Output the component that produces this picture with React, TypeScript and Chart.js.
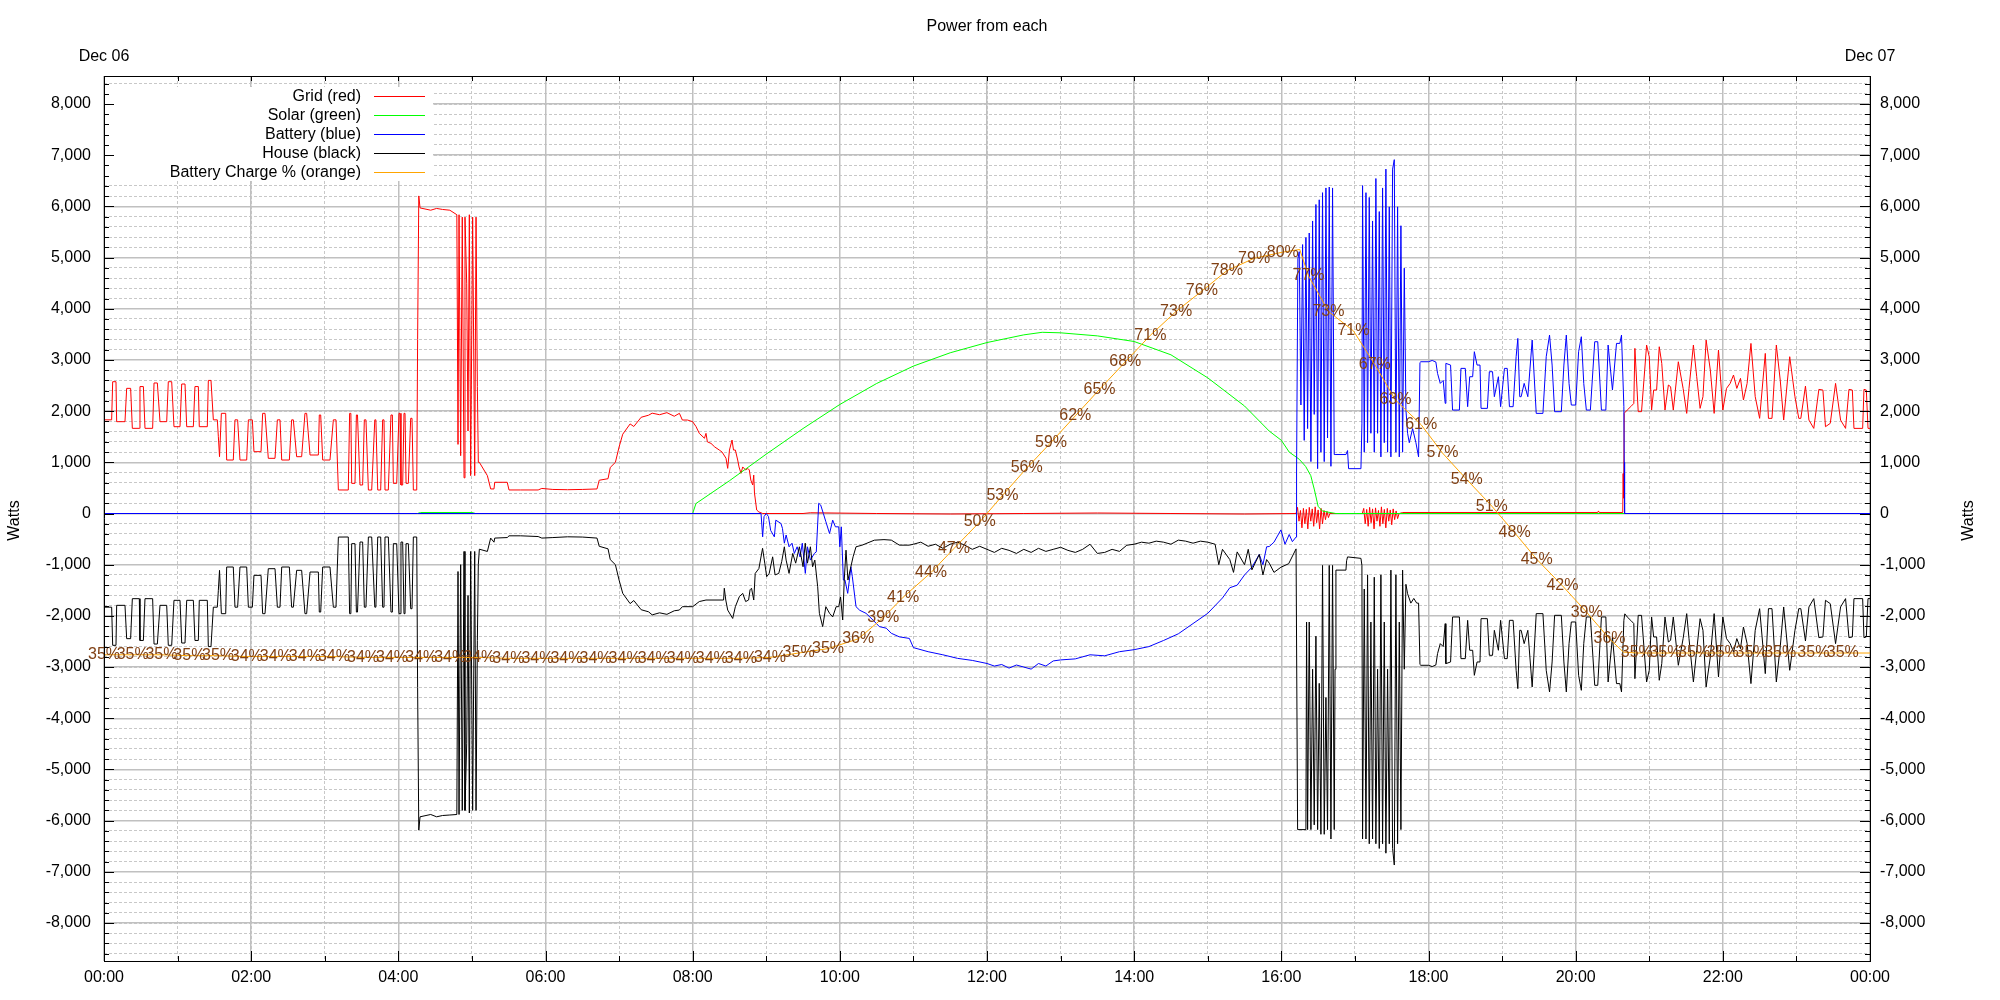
import React, { useEffect, useRef } from 'react';
import { Chart, registerables } from 'chart.js';

Chart.register(...registerables);

const FONT = '"Liberation Sans", Arial, Helvetica, sans-serif';
const TITLE = 'Power from each';
const AXIS_TITLE = 'Watts';
const DATE_LABELS = ['Dec 06', 'Dec 07'];
const Y_MIN = -8742;
const Y_MAX = 8547;
const X_MIN = 0;
const X_MAX = 24;
const Y_MAJOR_TICKS = [-8000, -7000, -6000, -5000, -4000, -3000, -2000, -1000, 0, 1000, 2000, 3000, 4000, 5000, 6000, 7000, 8000];
const Y_MINOR_STEP = 200;
const X_MAJOR_TICKS = [0, 2, 4, 6, 8, 10, 12, 14, 16, 18, 20, 22, 24];

// [hour of day, watts]
const gridPts: [number, number][] = [
  [0, 1830], [0.104, 1830], [0.118, 2575], [0.163, 2575], [0.172, 1794], [0.285, 1794], [0.308, 2445], [0.362, 2445], [0.385, 1664], [0.48, 1664], [0.489, 2480], [0.535, 2480], [0.557, 1664], [0.661, 1664], [0.68, 2550], [0.725, 2550], [0.761, 1794], [0.852, 1794], [0.874, 2575], [0.92, 2575], [0.951, 1696], [1.033, 1696], [1.056, 2530], [1.101, 2530], [1.124, 1696], [1.214, 1696], [1.236, 2480], [1.282, 2480], [1.295, 1696], [1.404, 1696], [1.418, 2600], [1.454, 2600], [1.486, 1830], [1.54, 1830],
  [1.554, 1500], [1.57, 1110], [1.595, 1957], [1.654, 1957], [1.667, 1045], [1.757, 1045], [1.78, 1830], [1.816, 1830], [1.848, 1045], [1.939, 1045], [1.962, 1830], [2.016, 1830], [2.038, 1208], [2.134, 1208], [2.156, 1957], [2.188, 1957], [2.233, 1078], [2.324, 1078], [2.356, 1830], [2.392, 1830], [2.415, 1045], [2.519, 1045], [2.55, 1830], [2.573, 1830], [2.618, 1110], [2.686, 1110], [2.731, 1957], [2.754, 1957], [2.8, 1143], [2.913, 1143], [2.926, 1925], [2.945, 1925], [2.972, 1045], [3.071, 1045], [3.117, 1830], [3.153, 1830], [3.171, 1045], [3.185, 460],
  [3.32, 459], [3.338, 1957], [3.355, 1957], [3.366, 589], [3.411, 589], [3.43, 1925], [3.445, 1925], [3.479, 557], [3.515, 557], [3.538, 1830], [3.56, 1830], [3.593, 459], [3.638, 459], [3.68, 1830], [3.695, 1830], [3.72, 459], [3.76, 459], [3.787, 1830], [3.805, 1830], [3.819, 459], [3.864, 459], [3.9, 1925], [3.919, 1925], [3.932, 589], [3.978, 589], [4.009, 1957], [4.023, 1957], [4.036, 557], [4.059, 557], [4.077, 1957], [4.091, 1957], [4.105, 589], [4.136, 589], [4.168, 1860], [4.186, 1860], [4.204, 459], [4.25, 459],
  [4.262, 3400], [4.278, 6204], [4.295, 5970], [4.44, 5925], [4.52, 5960], [4.6, 5940], [4.7, 5925], [4.795, 5837], [4.811, 1350], [4.825, 5837], [4.847, 1130], [4.869, 5790], [4.893, 697], [4.906, 5790], [4.929, 4500], [4.947, 1612], [4.965, 5837], [4.983, 740], [5.01, 5790], [5.038, 740], [5.056, 5790], [5.074, 2483], [5.087, 1000], [5.101, 1000], [5.21, 740], [5.255, 480], [5.3, 480], [5.31, 610], [5.48, 610], [5.504, 460],
  [5.663, 460], [5.9, 460], [5.95, 490], [6.1, 470], [6.3, 465], [6.5, 470], [6.7, 480], [6.73, 650], [6.85, 680], [6.88, 900], [6.95, 1000], [7.0, 1300], [7.05, 1550], [7.15, 1750], [7.2, 1700], [7.3, 1880], [7.4, 1920], [7.45, 1960], [7.55, 1930], [7.65, 1970], [7.75, 1900], [7.82, 1957], [7.86, 1826], [7.93, 1826], [8.0, 1794], [8.045, 1700], [8.09, 1566], [8.16, 1470], [8.181, 1566], [8.2, 1400], [8.249, 1370], [8.3, 1300], [8.362, 1240], [8.4, 1200], [8.453, 1080], [8.476, 882], [8.5, 1240], [8.535, 1436], [8.555, 1240], [8.58, 1240], [8.612, 1045], [8.63, 910], [8.657, 785], [8.68, 910], [8.72, 850], [8.75, 880], [8.77, 850], [8.79, 654], [8.816, 557], [8.83, 750], [8.84, 400], [8.87, 68], [8.9, 30], [8.952, 0],
  [9.5, 0], [9.6, 15], [10.5, 0], [11.5, -10], [12.5, 0], [13.5, 10], [14.5, 0], [15.5, -10], [16.2, 0],
  [16.22, 120], [16.24, -150], [16.26, 60], [16.28, -280], [16.3, 100], [16.32, -200], [16.34, 80], [16.36, -300], [16.38, 120], [16.4, -150], [16.42, 90], [16.44, -250], [16.46, 130], [16.48, -180], [16.5, 70], [16.52, -300], [16.54, 100], [16.56, -200], [16.58, 60], [16.6, -120], [16.62, 40], [16.64, -80], [16.66, 0],
  [17.1, 0], [17.12, 100], [17.14, -200], [17.16, 80], [17.18, -250], [17.2, 120], [17.22, -180], [17.24, 90], [17.26, -300], [17.28, 110], [17.3, -150], [17.32, 60], [17.34, -250], [17.36, 130], [17.38, -200], [17.4, 80], [17.42, -280], [17.44, 100], [17.46, -150], [17.48, 70], [17.5, -220], [17.52, 90], [17.54, -120], [17.56, 50], [17.58, -100], [17.6, 0],
  [17.65, 20], [20.3, 20], [20.31, 50], [20.32, 20], [20.64, 20], [20.645, 780], [20.652, 300], [20.66, 1960],
  [20.668, 1960], [20.7, 2020], [20.75, 2090], [20.79, 2150], [20.805, 3226], [20.85, 1990], [20.895, 1990], [20.964, 3291], [21.0, 3063], [21.032, 2021], [21.06, 2412], [21.1, 2412], [21.136, 3258], [21.17, 2933], [21.214, 2021], [21.26, 2510], [21.29, 2477], [21.327, 2021], [21.395, 2965], [21.46, 2444], [21.509, 1956], [21.54, 2444], [21.6, 3291], [21.645, 2672], [21.691, 2054], [21.73, 2282], [21.773, 3388], [21.83, 2802], [21.882, 1956], [21.941, 3193], [22.0, 2021], [22.05, 2444], [22.1, 2542], [22.145, 2705], [22.19, 2444], [22.24, 2640], [22.28, 2217], [22.33, 2542], [22.382, 3323], [22.44, 2282], [22.5, 1859], [22.577, 3128], [22.62, 1859], [22.668, 1859], [22.727, 3291], [22.78, 2607], [22.827, 1826], [22.909, 3063], [22.98, 2282], [23.032, 1859], [23.06, 1859], [23.123, 2490], [23.17, 1826], [23.236, 1663], [23.305, 2425], [23.36, 2412], [23.395, 1696], [23.46, 1761], [23.532, 2542], [23.6, 1826], [23.668, 1663], [23.714, 2425], [23.76, 2412], [23.782, 1663], [23.9, 1663], [23.918, 2425], [23.95, 2412], [23.973, 1663], [24, 1663],
];

const solarPts: [number, number][] = [
  [0, 0], [4.26, 0], [4.3, 20], [5.0, 20], [5.05, 0], [8.0, 0], [8.045, 195], [8.5, 640], [9.0, 1160], [9.5, 1660], [10.0, 2130], [10.5, 2540], [11.0, 2880], [11.5, 3140], [12.0, 3340], [12.5, 3490], [12.75, 3540], [13.0, 3530], [13.5, 3470], [14.0, 3360], [14.5, 3100], [15.0, 2650], [15.5, 2100], [15.836, 1610], [16.0, 1430], [16.107, 1200], [16.243, 1060], [16.33, 920], [16.4, 740], [16.45, 460], [16.5, 140], [16.56, 46], [16.74, 0], [24, 0],
];

const batteryPts: [number, number][] = [
  [0, 0], [4.26, 0], [8.929, 0], [8.951, -456], [8.97, -60], [9.0, 0], [9.03, -60], [9.06, -330], [9.11, -456], [9.13, -130], [9.2, -195], [9.22, -290], [9.246, -580], [9.27, -420], [9.31, -650], [9.35, -580], [9.382, -780], [9.42, -650], [9.46, -850], [9.49, -580], [9.531, -1170], [9.56, -650], [9.6, -910], [9.654, -780], [9.68, -750], [9.713, 200], [9.74, 165], [9.776, 0], [9.81, -160], [9.86, -390], [9.903, -130], [9.94, -260], [9.985, -260], [10.0, -650], [10.02, -260], [10.048, -1300], [10.07, -1300], [10.107, -1560], [10.13, -1300], [10.15, -1040], [10.17, -1235], [10.22, -1820], [10.27, -1890], [10.356, -1950], [10.45, -2080], [10.537, -2210], [10.63, -2240], [10.7, -2340], [10.809, -2410], [10.945, -2440],
  [11.0, -2620], [11.2, -2700], [11.4, -2760], [11.6, -2830], [11.8, -2870], [12.0, -2930], [12.1, -2980], [12.2, -2950], [12.3, -3020], [12.4, -2960], [12.5, -3000], [12.6, -3040], [12.7, -2930], [12.8, -2980], [12.9, -2880], [13.0, -2860], [13.2, -2840], [13.4, -2760], [13.6, -2780], [13.8, -2700], [14.0, -2660], [14.2, -2600], [14.4, -2480], [14.6, -2350], [14.8, -2150], [15.0, -1950], [15.2, -1650], [15.3, -1450], [15.4, -1400], [15.5, -1200], [15.6, -1050], [15.7, -800], [15.75, -1000], [15.8, -650], [15.836, -645], [15.9, -560], [15.994, -320], [16.05, -600], [16.107, -410], [16.15, -550], [16.2, -460],
  [16.207, 830], [16.225, 4980], [16.243, 5115], [16.266, 2120], [16.289, 5254], [16.311, 1429], [16.334, 5392], [16.357, 1659], [16.379, 5480], [16.402, 1014], [16.425, 5715], [16.447, 1936], [16.47, 6037], [16.493, 876], [16.515, 6129], [16.538, 1198], [16.56, 6268], [16.583, 1014], [16.606, 6360], [16.628, 1475], [16.651, 6378], [16.674, 922], [16.696, 6360], [16.719, 1152], [16.742, 1152], [16.878, 1152], [16.9, 1230], [16.914, 876], [17.082, 876], [17.095, 1751],
  [17.104, 6406], [17.127, 1198], [17.15, 6268], [17.172, 1383], [17.195, 6175], [17.217, 1567], [17.24, 5715], [17.263, 1198], [17.285, 6544], [17.308, 1567], [17.331, 5899], [17.353, 1106], [17.376, 6360], [17.399, 1383], [17.421, 6728], [17.444, 1198], [17.467, 5991], [17.489, 1106], [17.512, 6728], [17.535, 6913], [17.557, 1198], [17.58, 5991], [17.603, 1106], [17.625, 5622], [17.648, 1198], [17.671, 4793], [17.693, 2028], [17.716, 1567], [17.739, 1383], [17.784, 1659], [17.829, 1383], [17.865, 1106], [17.884, 2950],
  [17.895, 2965], [18.0, 2965], [18.05, 2990], [18.1, 2960], [18.123, 2737], [18.16, 2542], [18.2, 2600], [18.227, 2152], [18.236, 2933], [18.3, 2900], [18.327, 2021], [18.42, 2021], [18.441, 2835], [18.5, 2835], [18.532, 2087], [18.56, 2672], [18.6, 2672], [18.623, 3161], [18.66, 2900], [18.7, 2900], [18.714, 2054], [18.8, 2054], [18.827, 2770], [18.87, 2770], [18.895, 2282], [18.95, 2672], [18.98, 2087], [19.032, 2835], [19.07, 2835], [19.1, 2087], [19.15, 2087], [19.191, 3063], [19.214, 3421], [19.24, 2282], [19.259, 2282], [19.3, 2542], [19.35, 2282], [19.409, 3388], [19.464, 1956], [19.555, 1956], [19.6, 3063], [19.645, 3486], [19.68, 2900], [19.714, 1989], [19.805, 1989], [19.84, 2900], [19.873, 3486], [19.91, 2542], [19.941, 2119], [20.0, 2119], [20.04, 3161], [20.077, 3454], [20.11, 2542], [20.145, 2021], [20.2, 2021], [20.259, 3356], [20.3, 3356], [20.35, 2021], [20.41, 2021], [20.441, 3291], [20.5, 2412], [20.555, 3323], [20.6, 3323], [20.623, 3486], [20.655, 2087], [20.66, 1000], [20.665, 0], [24, 0],
];

const housePts: [number, number][] = [
  [0, -1830], [0.104, -1830], [0.118, -2575], [0.163, -2575], [0.172, -1794], [0.285, -1794], [0.308, -2445], [0.362, -2445], [0.385, -1664], [0.48, -1664], [0.489, -2480], [0.535, -2480], [0.557, -1664], [0.661, -1664], [0.68, -2550], [0.725, -2550], [0.761, -1794], [0.852, -1794], [0.874, -2575], [0.92, -2575], [0.951, -1696], [1.033, -1696], [1.056, -2530], [1.101, -2530], [1.124, -1696], [1.214, -1696], [1.236, -2480], [1.282, -2480], [1.295, -1696], [1.404, -1696], [1.418, -2600], [1.454, -2600], [1.486, -1830], [1.54, -1830],
  [1.554, -1500], [1.57, -1110], [1.595, -1957], [1.654, -1957], [1.667, -1045], [1.757, -1045], [1.78, -1830], [1.816, -1830], [1.848, -1045], [1.939, -1045], [1.962, -1830], [2.016, -1830], [2.038, -1208], [2.134, -1208], [2.156, -1957], [2.188, -1957], [2.233, -1078], [2.324, -1078], [2.356, -1830], [2.392, -1830], [2.415, -1045], [2.519, -1045], [2.55, -1830], [2.573, -1830], [2.618, -1110], [2.686, -1110], [2.731, -1957], [2.754, -1957], [2.8, -1143], [2.913, -1143], [2.926, -1925], [2.945, -1925], [2.972, -1045], [3.071, -1045], [3.117, -1830], [3.153, -1830], [3.171, -1045], [3.185, -460],
  [3.32, -459], [3.338, -1957], [3.355, -1957], [3.366, -589], [3.411, -589], [3.43, -1925], [3.445, -1925], [3.479, -557], [3.515, -557], [3.538, -1830], [3.56, -1830], [3.593, -459], [3.638, -459], [3.68, -1830], [3.695, -1830], [3.72, -459], [3.76, -459], [3.787, -1830], [3.805, -1830], [3.819, -459], [3.864, -459], [3.9, -1925], [3.919, -1925], [3.932, -589], [3.978, -589], [4.009, -1957], [4.023, -1957], [4.036, -557], [4.059, -557], [4.077, -1957], [4.091, -1957], [4.105, -589], [4.136, -589], [4.168, -1860], [4.186, -1860], [4.204, -459], [4.25, -459],
  [4.262, -3400], [4.278, -6186], [4.295, -5925], [4.44, -5880], [4.52, -5925], [4.6, -5900], [4.7, -5890], [4.795, -5880], [4.811, -1133], [4.825, -5880], [4.847, -1000], [4.869, -5800], [4.893, -741], [4.906, -5800], [4.929, -4500], [4.947, -1600], [4.965, -5850], [4.983, -741], [5.01, -5800], [5.038, -741], [5.056, -5800], [5.074, -2483], [5.087, -1000], [5.101, -697], [5.21, -741], [5.255, -480], [5.3, -560], [5.31, -480], [5.48, -470], [5.504, -436],
  [5.663, -436], [5.9, -450], [5.95, -480], [6.1, -470], [6.3, -455], [6.5, -460], [6.7, -480], [6.73, -640], [6.85, -690], [6.88, -900], [6.95, -1000], [7.0, -1300], [7.05, -1560], [7.15, -1760], [7.2, -1700], [7.3, -1880], [7.4, -1920], [7.45, -1980], [7.55, -1940], [7.65, -1970], [7.75, -1900], [7.819, -1886], [7.86, -1820], [8.0, -1820], [8.09, -1720], [8.181, -1690], [8.42, -1690], [8.43, -1460], [8.45, -1690], [8.476, -1886], [8.544, -2050], [8.58, -1820], [8.634, -1625], [8.68, -1560], [8.72, -1720], [8.76, -1690], [8.78, -1490], [8.8, -1460], [8.83, -1690], [8.85, -1170], [8.9, -1075], [8.95, -680], [8.98, -970], [9.006, -1234], [9.04, -1170], [9.087, -846], [9.12, -1200], [9.17, -1170], [9.21, -940], [9.246, -650], [9.27, -910], [9.31, -1170], [9.36, -780], [9.4, -970], [9.45, -650], [9.5, -1040], [9.53, -580], [9.56, -970], [9.6, -650], [9.63, -1040], [9.66, -910], [9.699, -1430], [9.722, -1950], [9.767, -2210], [9.81, -1820], [9.86, -1950], [9.903, -2020], [9.95, -1820], [9.985, -1820], [10.01, -1630], [10.039, -2080], [10.06, -1300], [10.084, -716], [10.11, -1300], [10.15, -1040], [10.18, -846], [10.22, -650],
  [10.3, -620], [10.469, -521], [10.6, -510], [10.7, -520], [10.809, -618], [10.945, -618], [11.0, -600], [11.1, -560], [11.2, -640], [11.3, -600], [11.4, -680], [11.5, -600], [11.6, -560], [11.7, -620], [11.8, -700], [11.9, -640], [12.0, -700], [12.1, -760], [12.2, -680], [12.3, -720], [12.4, -780], [12.5, -700], [12.6, -760], [12.7, -680], [12.8, -740], [12.9, -700], [13.0, -660], [13.1, -720], [13.2, -760], [13.3, -700], [13.4, -600], [13.5, -780], [13.6, -760], [13.7, -700], [13.8, -740], [13.9, -620], [14.0, -600], [14.1, -560], [14.2, -580], [14.3, -540], [14.4, -560], [14.5, -600], [14.6, -520], [14.7, -540], [14.8, -580], [14.9, -540], [15.0, -560], [15.1, -600], [15.15, -1000], [15.2, -700], [15.3, -900], [15.35, -1150], [15.4, -750], [15.5, -1000], [15.55, -700], [15.6, -1100], [15.7, -800], [15.75, -1200], [15.8, -900], [15.836, -970], [15.9, -1150], [15.994, -1050], [16.1, -980], [16.2, -691],
  [16.221, -6175], [16.334, -6175], [16.343, -2120], [16.357, -6175], [16.379, -2120], [16.402, -6175], [16.425, -3042], [16.447, -6083], [16.47, -2396], [16.493, -6175], [16.515, -3318], [16.538, -6267], [16.56, -1014], [16.583, -6267], [16.606, -3595], [16.628, -6175], [16.651, -1014], [16.674, -6359], [16.696, -1014], [16.719, -6175], [16.73, -3042], [16.742, -1106], [16.878, -1106], [16.887, -922], [16.9, -848], [17.082, -876], [17.095, -1014],
  [17.104, -6359], [17.127, -1475], [17.15, -6359], [17.172, -1198], [17.195, -6452], [17.217, -2120], [17.24, -6359], [17.263, -1244], [17.285, -6452], [17.308, -3042], [17.331, -6544], [17.353, -1198], [17.376, -6452], [17.399, -2120], [17.421, -6636], [17.444, -3042], [17.467, -6452], [17.489, -1106], [17.512, -6544], [17.535, -6867], [17.557, -1198], [17.58, -6452], [17.603, -2120], [17.625, -6175], [17.648, -1106], [17.671, -3042], [17.693, -1383], [17.716, -1567], [17.76, -1751], [17.8, -1659], [17.84, -1751], [17.865, -1751], [17.884, -2950],
  [17.895, -2965], [18.0, -2965], [18.05, -2990], [18.1, -2960], [18.123, -2737], [18.16, -2542], [18.2, -2600], [18.227, -2152], [18.236, -2933], [18.3, -2900], [18.327, -2021], [18.42, -2021], [18.441, -2835], [18.5, -2835], [18.532, -2087], [18.56, -2672], [18.6, -2672], [18.623, -3161], [18.66, -2900], [18.7, -2900], [18.714, -2054], [18.8, -2054], [18.827, -2770], [18.87, -2770], [18.895, -2282], [18.95, -2672], [18.98, -2087], [19.032, -2835], [19.07, -2835], [19.1, -2087], [19.15, -2087], [19.191, -3063], [19.214, -3421], [19.24, -2282], [19.259, -2282], [19.3, -2542], [19.35, -2282], [19.409, -3388], [19.464, -1956], [19.555, -1956], [19.6, -3063], [19.645, -3486], [19.68, -2900], [19.714, -1989], [19.805, -1989], [19.84, -2900], [19.873, -3486], [19.91, -2542], [19.941, -2119], [20.0, -2119], [20.04, -3161], [20.077, -3454], [20.11, -2542], [20.145, -2021], [20.2, -2021], [20.259, -3356], [20.3, -3356], [20.35, -2021], [20.41, -2021], [20.441, -3291], [20.5, -2412], [20.555, -3323], [20.6, -3323], [20.623, -3486], [20.655, -2087], [20.668, -1960],
  [20.7, -2020], [20.75, -2090], [20.79, -2150], [20.805, -3226], [20.85, -1990], [20.895, -1990], [20.964, -3291], [21.0, -3063], [21.032, -2021], [21.06, -2412], [21.1, -2412], [21.136, -3258], [21.17, -2933], [21.214, -2021], [21.26, -2510], [21.29, -2477], [21.327, -2021], [21.395, -2965], [21.46, -2444], [21.509, -1956], [21.54, -2444], [21.6, -3291], [21.645, -2672], [21.691, -2054], [21.73, -2282], [21.773, -3388], [21.83, -2802], [21.882, -1956], [21.941, -3193], [22.0, -2021], [22.05, -2444], [22.1, -2542], [22.145, -2705], [22.19, -2444], [22.24, -2640], [22.28, -2217], [22.33, -2542], [22.382, -3323], [22.44, -2282], [22.5, -1859], [22.577, -3128], [22.62, -1859], [22.668, -1859], [22.727, -3291], [22.78, -2607], [22.827, -1826], [22.909, -3063], [22.98, -2282], [23.032, -1859], [23.06, -1859], [23.123, -2490], [23.17, -1826], [23.236, -1663], [23.305, -2425], [23.36, -2412], [23.395, -1696], [23.46, -1761], [23.532, -2542], [23.6, -1826], [23.668, -1663], [23.714, -2425], [23.76, -2412], [23.782, -1663], [23.9, -1663], [23.918, -2425], [23.95, -2412], [23.973, -1663], [24, -1663],
];

// battery state of charge, hour and percent
const chargeT = [0, 0.39, 0.78, 1.16, 1.55, 1.94, 2.335, 2.73, 3.125, 3.52, 3.915, 4.31, 4.705, 5.1, 5.495, 5.89, 6.285, 6.68, 7.075, 7.47, 7.865, 8.26, 8.655, 9.05, 9.44, 9.84, 10.25, 10.59, 10.86, 11.24, 11.55, 11.9, 12.21, 12.54, 12.87, 13.2, 13.53, 13.88, 14.22, 14.57, 14.92, 15.26, 15.63, 16.02, 16.25, 16.37, 16.64, 16.98, 17.27, 17.55, 17.9, 18.19, 18.52, 18.86, 19.17, 19.47, 19.82, 20.15, 20.46, 20.65, 20.83, 21.22, 21.61, 22.0, 22.39, 22.78, 23.23, 23.63, 24];
const chargePct = [34.6, 34.6, 34.6, 34.5, 34.5, 34.4, 34.4, 34.4, 34.4, 34.3, 34.3, 34.3, 34.3, 34.3, 34.2, 34.2, 34.2, 34.2, 34.2, 34.2, 34.2, 34.2, 34.2, 34.3, 34.8, 35.3, 36.4, 38.8, 41.1, 43.9, 46.6, 49.6, 52.6, 55.7, 58.6, 61.6, 64.6, 67.7, 70.7, 73.4, 75.7, 78.0, 79.4, 80.1, 80.4, 77.4, 73.4, 71.2, 67.4, 63.4, 60.6, 57.4, 54.4, 51.4, 48.4, 45.4, 42.4, 39.4, 36.4, 34.9, 34.8, 34.8, 34.8, 34.8, 34.8, 34.8, 34.8, 34.8, 34.8];
const chargeUnlabeled = [16.25, 20.65, 24];

const SERIES = [
  { label: 'Grid (red)', color: '#ff0000' },
  { label: 'Solar (green)', color: '#00ff00' },
  { label: 'Battery (blue)', color: '#0000ff' },
  { label: 'House (black)', color: '#000000' },
  { label: 'Battery Charge % (orange)', color: '#ffa500' },
];

const hourLabel = (v: number) => String(Math.round(v) % 24).padStart(2, '0') + ':00';
const wattLabel = (v: number) => Number(v).toLocaleString('en-US');

const yMinorTicks: number[] = [];
for (let v = Math.ceil(Y_MIN / Y_MINOR_STEP) * Y_MINOR_STEP; v <= Y_MAX; v += Y_MINOR_STEP) yMinorTicks.push(v);
const xMinorTicks: number[] = [];
for (let v = X_MIN; v <= X_MAX; v += 1) xMinorTicks.push(v);

const setTicks = (vals: number[]) => (s: any) => { s.ticks = vals.map((value) => ({ value })); };

const decorPlugin = {
  id: 'decor',
  beforeDatasetsDraw(chart: any) {
    const { ctx, chartArea: a } = chart;
    ctx.save();
    ctx.fillStyle = '#ffffff';
    ctx.fillRect(a.left + 1, 87, 433 - a.left - 1, 94);
    ctx.font = `16px ${FONT}`;
    ctx.textAlign = 'right';
    ctx.textBaseline = 'middle';
    chart.data.datasets.forEach((ds: any, i: number) => {
      const y = 96.3 + i * 19;
      ctx.fillStyle = '#000';
      ctx.fillText(ds.label, 361, y);
      ctx.strokeStyle = ds.borderColor;
      ctx.lineWidth = 1;
      ctx.beginPath();
      ctx.moveTo(374, Math.round(y) + 0.5);
      ctx.lineTo(425, Math.round(y) + 0.5);
      ctx.stroke();
    });
    ctx.restore();
  },
  afterDatasetsDraw(chart: any) {
    const { ctx } = chart;
    const meta = chart.getDatasetMeta(4);
    ctx.save();
    ctx.font = `16px ${FONT}`;
    ctx.fillStyle = '#804014';
    ctx.textAlign = 'center';
    ctx.textBaseline = 'middle';
    meta.data.forEach((pt: any, i: number) => {
      if (chargeUnlabeled.includes(chargeT[i])) return;
      ctx.fillText(Math.round(chargePct[i]) + '%', pt.x, pt.y);
    });
    ctx.restore();
  },
  afterDraw(chart: any) {
    const { ctx, chartArea: a, scales } = chart;
    ctx.save();
    ctx.strokeStyle = '#000';
    ctx.lineWidth = 1;
    ctx.beginPath();
    for (const t of scales.yMinor.ticks) {
      const p = Math.round(scales.yMinor.getPixelForValue(t.value)) + 0.5;
      const len = t.value % 1000 === 0 ? 10 : 5;
      ctx.moveTo(a.left, p); ctx.lineTo(a.left + len, p);
      ctx.moveTo(a.right, p); ctx.lineTo(a.right - len, p);
    }
    for (const t of scales.xMinor.ticks) {
      const p = Math.round(scales.xMinor.getPixelForValue(t.value)) + 0.5;
      const len = t.value % 2 === 0 ? 10 : 5;
      ctx.moveTo(p, a.bottom); ctx.lineTo(p, a.bottom - len);
      ctx.moveTo(p, a.top); ctx.lineTo(p, a.top + 5);
    }
    ctx.stroke();
    ctx.fillStyle = '#000';
    ctx.font = `16px ${FONT}`;
    ctx.textAlign = 'center';
    ctx.textBaseline = 'middle';
    ctx.fillText(TITLE, (a.left + a.right) / 2, 27);
    const midY = (a.top + a.bottom) / 2 + 2;
    [15, 1969].forEach((x) => {
      ctx.save();
      ctx.translate(x, midY);
      ctx.rotate(-Math.PI / 2);
      ctx.fillText(AXIS_TITLE, 0, 0);
      ctx.restore();
    });
    ctx.restore();
  },
};

export default function App() {
  const ref = useRef<HTMLCanvasElement>(null);
  useEffect(() => {
    const canvas = ref.current as HTMLCanvasElement;
    const toXY = (arr: [number, number][]) => arr.map(([x, y]) => ({ x, y }));
    const powerSets = [gridPts, solarPts, batteryPts, housePts];
    const datasets: any[] = powerSets.map((pts, i) => ({
      label: SERIES[i].label,
      data: toXY(pts),
      borderColor: SERIES[i].color,
      backgroundColor: SERIES[i].color,
      borderWidth: 1,
      pointRadius: 0,
      tension: 0,
      fill: false,
      xAxisID: 'x',
      yAxisID: 'y',
      order: 5 - i,
    }));
    datasets.push({
      label: SERIES[4].label,
      data: chargeT.map((t, i) => ({ x: t, y: chargePct[i] })),
      borderColor: SERIES[4].color,
      backgroundColor: SERIES[4].color,
      borderWidth: 1,
      pointRadius: 0,
      tension: 0,
      fill: false,
      xAxisID: 'x',
      yAxisID: 'yPct',
      order: 1,
    });
    const tickFont = { size: 16, family: FONT };
    const majorGrid = { color: '#c0c0c0', lineWidth: 1.5, drawTicks: false, z: 0 };
    const minorGrid = { color: '#c8c8c8', lineWidth: 1, drawTicks: false, z: -1, borderDash: [3, 2] };
    const chart = new Chart(canvas, {
      type: 'line',
      data: { datasets },
      plugins: [decorPlugin],
      options: {
        responsive: false,
        maintainAspectRatio: false,
        animation: false,
        events: [],
        layout: { padding: 0 },
        plugins: { legend: { display: false }, title: { display: false }, tooltip: { enabled: false } },
        scales: {
          x: {
            type: 'linear', position: 'bottom', min: X_MIN, max: X_MAX,
            afterFit: (s: any) => { s.height = 39; },
            afterBuildTicks: setTicks(X_MAJOR_TICKS),
            ticks: { autoSkip: false, maxRotation: 0, padding: 7, color: '#000', font: tickFont, callback: (v: any) => hourLabel(v) },
            grid: majorGrid,
            border: { display: true, color: '#000', width: 1, z: 1 },
          },
          xMinor: {
            type: 'linear', position: 'bottom', min: X_MIN, max: X_MAX,
            afterFit: (s: any) => { s.height = 0; },
            afterBuildTicks: setTicks(xMinorTicks),
            ticks: { display: false, autoSkip: false },
            grid: minorGrid,
            border: { display: false, dash: [3, 2] },
          },
          xTop: {
            type: 'linear', position: 'top', min: X_MIN, max: X_MAX,
            afterFit: (s: any) => { s.height = 76; },
            afterBuildTicks: setTicks([X_MIN, X_MAX]),
            ticks: { autoSkip: false, maxRotation: 0, padding: 10, color: '#000', font: tickFont, callback: (v: any) => DATE_LABELS[v === X_MIN ? 0 : 1] },
            grid: { drawOnChartArea: false, drawTicks: false },
            border: { display: true, color: '#000', width: 1, z: 1 },
          },
          y: {
            type: 'linear', position: 'left', min: Y_MIN, max: Y_MAX,
            afterFit: (s: any) => { s.width = 104; },
            afterBuildTicks: setTicks(Y_MAJOR_TICKS),
            ticks: { autoSkip: false, padding: 13, color: '#000', font: tickFont, callback: (v: any) => wattLabel(v) },
            grid: majorGrid,
            border: { display: true, color: '#000', width: 1, z: 1 },
          },
          yMinor: {
            type: 'linear', position: 'left', min: Y_MIN, max: Y_MAX,
            afterFit: (s: any) => { s.width = 0; },
            afterBuildTicks: setTicks(yMinorTicks),
            ticks: { display: false, autoSkip: false },
            grid: minorGrid,
            border: { display: false, dash: [3, 2] },
          },
          yRight: {
            type: 'linear', position: 'right', min: Y_MIN, max: Y_MAX,
            afterFit: (s: any) => { s.width = 130; },
            afterBuildTicks: setTicks(Y_MAJOR_TICKS),
            ticks: { autoSkip: false, padding: 10, color: '#000', font: tickFont, callback: (v: any) => wattLabel(v) },
            grid: { drawOnChartArea: false, drawTicks: false },
            border: { display: true, color: '#000', width: 1, z: 1 },
          },
          yPct: { type: 'linear', display: false, min: 0, max: 100 },
        },
      } as any,
    });
    return () => chart.destroy();
  }, []);
  return (
    <div style={{ position: 'fixed', left: 0, top: 0, width: 2000, height: 1000, background: '#fff' }}>
      <canvas ref={ref} width={2000} height={1000} style={{ display: 'block', width: 2000, height: 1000 }} />
    </div>
  );
}
